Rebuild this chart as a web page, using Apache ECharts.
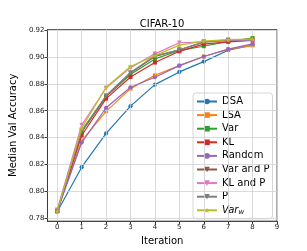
<!DOCTYPE html>
<html><head><meta charset="utf-8">
<script src="https://cdn.jsdelivr.net/npm/echarts@6/dist/echarts.min.js"></script>
<style>html,body{margin:0;padding:0;background:#fff}#c{width:307px;height:251px}</style>
</head><body><div id="c"></div>
<script>
const iterations = [0, 1, 2, 3, 4, 5, 6, 7, 8];
const xTicks = [0, 1, 2, 3, 4, 5, 6, 7, 8, 9];
const yTicks = [0.78, 0.80, 0.82, 0.84, 0.86, 0.88, 0.90, 0.92];
const seriesNames = ['DSA', 'LSA', 'Var', 'KL', 'Random', 'Var and P', 'KL and P', 'P', 'Var_w'];
const dsa    = [0.7845, 0.8178, 0.8430, 0.8634, 0.8795, 0.8890, 0.8967, 0.9052, 0.9090];
const lsa    = [0.7850, 0.8375, 0.8595, 0.8765, 0.8865, 0.8937, 0.9005, 0.9058, 0.9088];
const varS   = [0.7850, 0.8440, 0.8705, 0.8870, 0.8987, 0.9050, 0.9082, 0.9118, 0.9143];
const kl     = [0.7850, 0.8415, 0.8690, 0.8852, 0.8960, 0.9044, 0.9098, 0.9115, 0.9125];
const random = [0.7850, 0.8362, 0.8622, 0.8775, 0.8850, 0.8937, 0.9005, 0.9060, 0.9100];
const varP   = [0.7850, 0.8450, 0.8710, 0.8882, 0.9005, 0.9055, 0.9112, 0.9125, 0.9128];
const klP    = [0.7860, 0.8493, 0.8770, 0.8922, 0.9025, 0.9108, 0.9115, 0.9125, 0.9125];
const pS     = [0.7850, 0.8450, 0.8712, 0.8886, 0.9010, 0.9055, 0.9115, 0.9130, 0.9130];
const varW   = [0.7850, 0.8470, 0.8775, 0.8930, 0.9012, 0.9090, 0.9120, 0.9132, 0.9135];
const allData = [dsa, lsa, varS, kl, random, varP, klP, pS, varW];

const colors = ['#1f77b4','#ff7f0e','#2ca02c','#d62728','#9467bd','#8c564b','#e377c2','#7f7f7f','#bcbd22'];
const tri = 'path://M-5,-4 L5,-4 L0,5 Z';
const star = 'path://M0,-10 L2.35,-3.24 L9.51,-3.09 L3.8,1.24 L5.88,8.09 L0,4 L-5.88,8.09 L-3.8,1.24 L-9.51,-3.09 L-2.35,-3.24 Z';
const symbols = ['circle','rect','rect','rect','circle',tri,tri,tri,star];
const sizes = [4.2,4,4,4,4.2,4.6,4.6,4.6,5.2];

const series = [{
  type: 'line', data: [], z: 1, silent: true,
  markLine: {
    silent: true, symbol: ['none','none'], label: {show: false},
    lineStyle: {color: '#d0d0d0', width: 0.8, type: 'solid'},
    animation: false,
    data: xTicks.map(v => ({xAxis: v})).concat(yTicks.map(v => ({yAxis: v})))
  }
}];
seriesNames.forEach((n, i) => {
  series.push({
    name: n, type: 'line', z: 3 + i,
    data: iterations.map((x, j) => [x, allData[i][j]]),
    symbol: symbols[i], symbolSize: sizes[i], showSymbol: true,
    itemStyle: {color: colors[i]},
    lineStyle: {color: colors[i], width: 1.2},
    animation: false
  });
});

const chart = echarts.init(document.getElementById('c'), null, {renderer: 'canvas'});
chart.setOption({
  backgroundColor: '#fff',
  animation: false,
  title: {text: 'CIFAR-10', left: 157, textAlign: 'center', top: 14,
    textStyle: {fontFamily: 'DejaVu Sans', fontSize: 10, fontWeight: 'normal', color: '#000'}},
  grid: {left: 39, right: 30, top: 29.5, bottom: 27.7, show: true, borderColor: '#333', borderWidth: 0.8, backgroundColor: 'transparent'},
  xAxis: {
    type: 'value', min: -0.4, max: 9,
    name: 'Iteration', nameLocation: 'middle', nameGap: 12,
    nameTextStyle: {fontFamily: 'DejaVu Sans', fontSize: 10, color: '#000'},
    axisLine: {show: true, onZero: false, lineStyle: {color: '#333', width: 0.8}},
    axisTick: {show: true, length: 3, customValues: xTicks, lineStyle: {color: '#333'}},
    axisLabel: {customValues: xTicks, fontFamily: 'DejaVu Sans', fontSize: 7, color: '#222', margin: 3},
    splitLine: {show: false}
  },
  yAxis: {
    type: 'value', min: 0.7775, max: 0.9207,
    name: 'Median Val Accuracy', nameLocation: 'middle', nameGap: 22,
    nameTextStyle: {fontFamily: 'DejaVu Sans', fontSize: 10, color: '#000'},
    axisLine: {show: true, onZero: false, lineStyle: {color: '#333', width: 0.8}},
    axisTick: {show: true, length: 3, customValues: yTicks, lineStyle: {color: '#333'}},
    axisLabel: {customValues: yTicks, fontFamily: 'DejaVu Sans', fontSize: 7, color: '#222', margin: 3,
      formatter: v => v.toFixed(2)},
    splitLine: {show: false}
  },
  legend: {
    orient: 'vertical', left: 193, top: 93,
    data: seriesNames,
    backgroundColor: 'rgba(255,255,255,0.85)', borderColor: '#ccc', borderWidth: 0.8, borderRadius: 3,
    padding: [3, 3, 3, 3], itemWidth: 20, itemHeight: 7, itemGap: 2.6,
    formatter: n => n === 'Var_w' ? '{i|Var}{s|w}' : n,
    textStyle: {fontFamily: 'DejaVu Sans', fontSize: 10, color: '#000', lineHeight: 11,
      rich: {i: {fontFamily: 'DejaVu Sans', fontStyle: 'italic', fontSize: 10, color: '#000'},
             s: {fontFamily: 'DejaVu Sans', fontStyle: 'italic', fontSize: 7, color: '#000', verticalAlign: 'bottom', padding: [4,0,0,0]}}}
  },
  series: series
});
</script></body></html>
